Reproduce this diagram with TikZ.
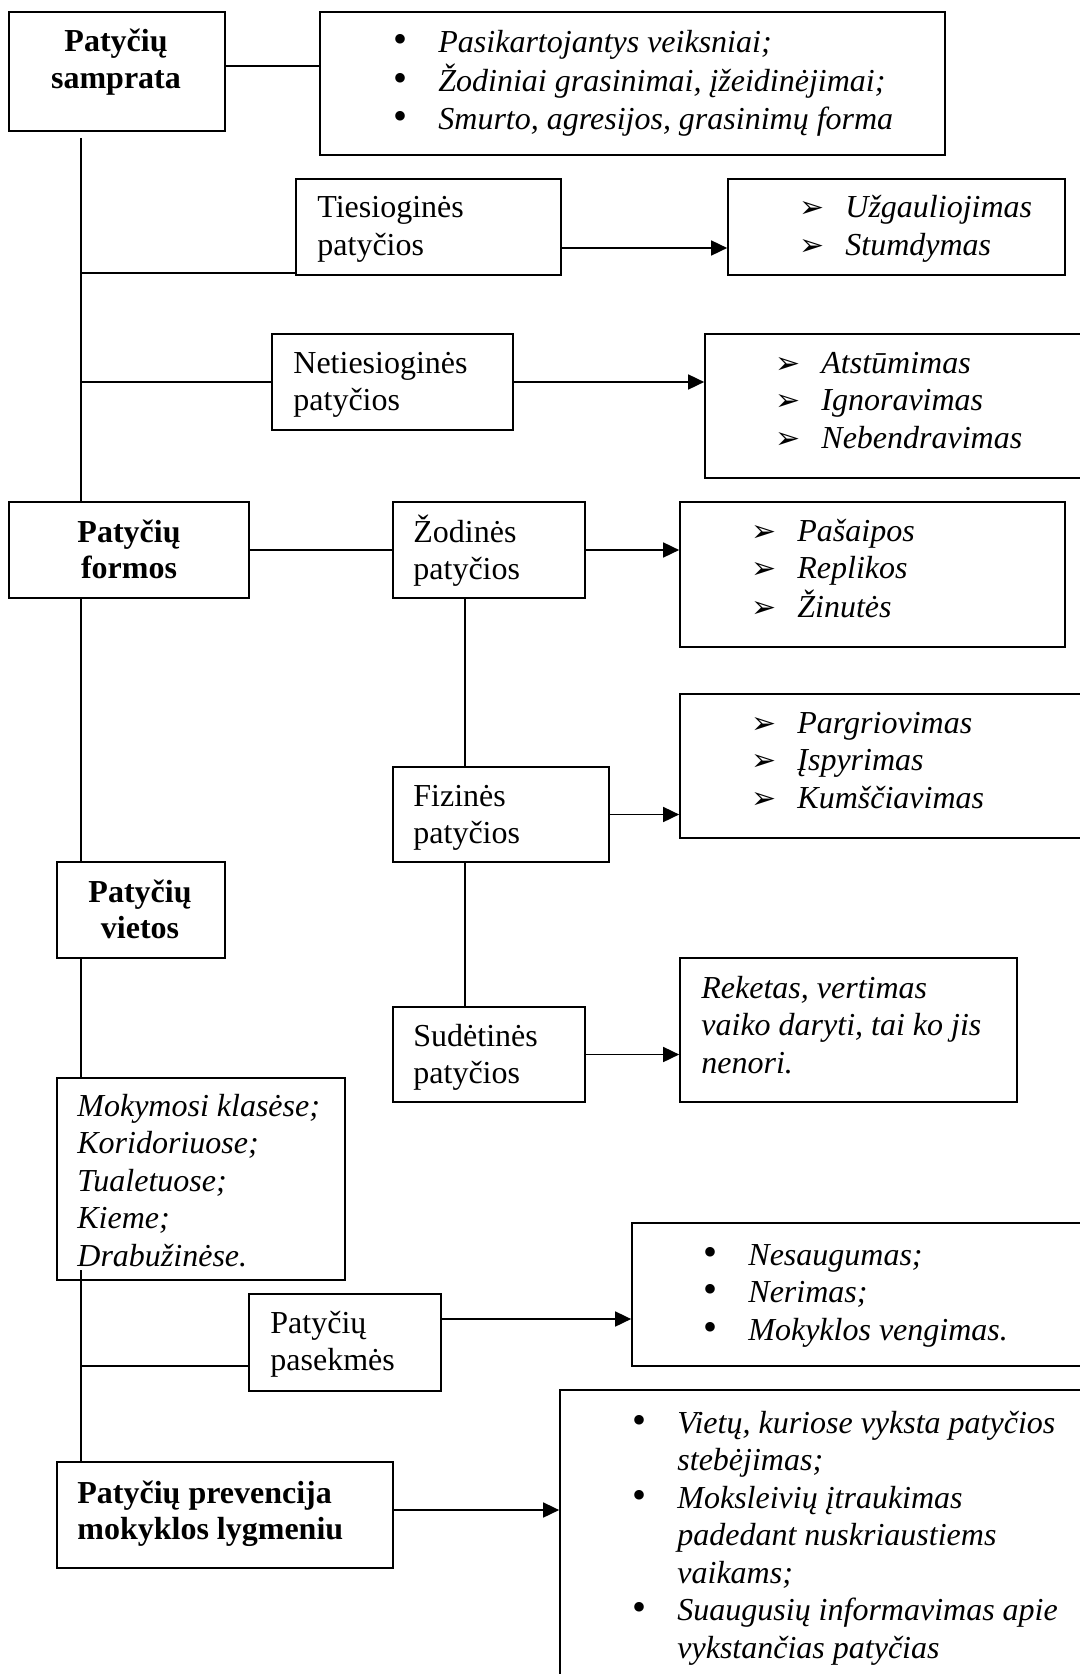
\documentclass[tikz,border=0pt]{standalone}
\usepackage{fontspec}
\setmainfont{Liberation Serif}
\newfontfamily\symfont{DejaVu Sans}
\usetikzlibrary{arrows.meta,fit}
\newcommand\lns[1]{\begin{tabular}[t]{@{}l@{}}#1\end{tabular}}
\newcommand\clns[1]{\begin{tabular}[t]{@{}c@{}}#1\end{tabular}}
\newcommand\blist[1]{\begin{tabular}[t]{@{}l@{}l@{}}#1\end{tabular}}
\newcommand\arrb{\makebox[23pt][l]{\symfont\upshape\fontsize{15}{15}\selectfont ➢}}
\newcommand\bulb{\makebox[22.5pt][l]{\upshape\fontsize{20}{18}\selectfont •}}
\tikzset{
  box/.style={draw, line width=0.85pt, inner sep=0pt, rectangle},
  txt/.style={inner sep=0pt, anchor=base west, font=\fontsize{16}{18.75}\selectfont},
  ctxt/.style={txt, anchor=base},
  itxt/.style={txt, font=\fontsize{16}{18.75}\selectfont\itshape},
  lnk/.style={line width=0.85pt},
  arrw/.style={line width=0.85pt, -{Triangle[length=8pt,width=7.5pt]}},
}
\begin{document}
\begin{tikzpicture}[x=0.5pt,y=-0.5pt]
\useasboundingbox (0,0) rectangle (1080,1674);
% boxes
\node[box, fit={(9,12) (225,131)}] (samp) {};
\node[box, fit={(320,12) (945,155)}] (list) {};
\node[box, fit={(296,179) (561,275)}] (tie) {};
\node[box, fit={(728,179) (1065,275)}] (uz) {};
\node[box, fit={(272,334) (513,430)}] (net) {};
\node[box, fit={(705,334) (1095,478)}] (ats) {};
\node[box, fit={(9,502) (249,598)}] (formos) {};
\node[box, fit={(393,502) (585,598)}] (zod) {};
\node[box, fit={(680,502) (1065,647)}] (pas) {};
\node[box, fit={(680,694) (1095,838)}] (parg) {};
\node[box, fit={(393,767) (609,862)}] (fiz) {};
\node[box, fit={(57,862) (225,958)}] (vietos) {};
\node[box, fit={(680,958) (1017,1102)}] (rek) {};
\node[box, fit={(393,1007) (585,1102)}] (sud) {};
\node[box, fit={(57,1078) (345,1280)}] (mok) {};
\node[box, fit={(249,1294) (441,1391)}] (pasek) {};
\node[box, fit={(632,1223) (1095,1366)}] (nes) {};
\node[box, fit={(57,1462) (393,1568)}] (prev) {};
\node[box, fit={(560,1390) (1095,1700)}] (big) {};
% texts
\node[ctxt, font=\fontsize{16}{18.25}\selectfont\bfseries] (tsamp) at (116,52) {\clns{Patyčių\\samprata}};
\node[itxt] (tlist) at (393,53) {\blist{\bulb & Pasikartojantys veiksniai;\\ \bulb & Žodiniai grasinimai, įžeidinėjimai;\\ \bulb & Smurto, agresijos, grasinimų forma}};
\node[txt] (ttie) at (317,218) {\lns{Tiesioginės\\patyčios}};
\node[itxt] (tuz) at (799,218) {\blist{\arrb & Užgauliojimas\\ \arrb & Stumdymas}};
\node[txt] (tnet) at (293,373) {\lns{Netiesioginės\\patyčios}};
\node[itxt] (tats) at (775,373) {\blist{\arrb & Atstūmimas\\ \arrb & Ignoravimas\\ \arrb & Nebendravimas}};
\node[ctxt, font=\fontsize{16}{18.25}\selectfont\bfseries] (tformos) at (129,542) {\clns{Patyčių\\formos}};
\node[txt] (tzod) at (413,542) {\lns{Žodinės\\patyčios}};
\node[itxt] (tpas) at (751,541) {\blist{\arrb & Pašaipos\\ \arrb & Replikos\\ \arrb & Žinutės}};
\node[itxt] (tparg) at (751,733) {\blist{\arrb & Pargriovimas\\ \arrb & Įspyrimas\\ \arrb & Kumščiavimas}};
\node[txt] (tfiz) at (413,806) {\lns{Fizinės\\patyčios}};
\node[ctxt, font=\fontsize{16}{18.25}\selectfont\bfseries] (tvietos) at (140,902) {\clns{Patyčių\\vietos}};
\node[itxt] (trek) at (701,998) {\lns{Reketas, vertimas\\vaiko daryti, tai ko jis\\nenori.}};
\node[txt] (tsud) at (413,1046) {\lns{Sudėtinės\\patyčios}};
\node[itxt] (tmok) at (77,1116) {\lns{Mokymosi klasėse;\\Koridoriuose;\\Tualetuose;\\Kieme;\\Drabužinėse.}};
\node[itxt] (tnes) at (703,1265) {\blist{\bulb & Nesaugumas;\\ \bulb & Nerimas;\\ \bulb & Mokyklos vengimas.}};
\node[txt] (tpasek) at (270,1333) {\lns{Patyčių\\pasekmės}};
\node[txt, font=\fontsize{16}{18}\selectfont\bfseries] (tprev) at (77,1503) {\lns{Patyčių prevencija\\mokyklos lygmeniu}};
\node[itxt] (tbig) at (632,1433) {\blist{\bulb & Vietų, kuriose vyksta patyčios\\ & stebėjimas;\\ \bulb & Moksleivių įtraukimas\\ & padedant nuskriaustiems\\ & vaikams;\\ \bulb & Suaugusių informavimas apie\\ & vykstančias patyčias}};
% trunk
\coordinate (t0) at (81,138);
\coordinate (t1) at (81,273);
\coordinate (t2) at (81,382);
\coordinate (t3) at (81,1270);
\coordinate (t4) at (81,1366);
\draw[lnk] (t0) -- (t0 |- formos.north);
\draw[lnk] (t0 |- formos.south) -- (t0 |- vietos.north);
\draw[lnk] (t0 |- vietos.south) -- (t0 |- mok.north);
\draw[lnk] (t3) -- (t3 |- prev.north);
\draw[lnk] (t1) -- (t1 -| tie.west);
\draw[lnk] (t2) -- (t2 -| net.west);
\draw[lnk] (t4) -- (t4 -| pasek.west);
% other links
\coordinate (h0) at (0,66);
\draw[lnk] (samp.east |- h0) -- (list.west |- h0);
\draw[lnk] (formos.east) -- (zod.west);
\coordinate (v0) at (465,0);
\draw[lnk] (v0 |- zod.south) -- (v0 |- fiz.north);
\draw[lnk] (v0 |- fiz.south) -- (v0 |- sud.north);
% arrows
\coordinate (a1) at (0,248);
\coordinate (a2) at (0,1319);
\coordinate (a3) at (0,1510);
\draw[arrw] (tie.east |- a1) -- (uz.west |- a1);
\draw[arrw] (net.east) -- (ats.west |- net.east);
\draw[arrw] (zod.east) -- (pas.west |- zod.east);
\draw[arrw] (fiz.east) -- (parg.west |- fiz.east);
\draw[arrw] (sud.east) -- (rek.west |- sud.east);
\draw[arrw] (pasek.east |- a2) -- (nes.west |- a2);
\draw[arrw] (prev.east |- a3) -- (big.west |- a3);
\end{tikzpicture}
\end{document}
